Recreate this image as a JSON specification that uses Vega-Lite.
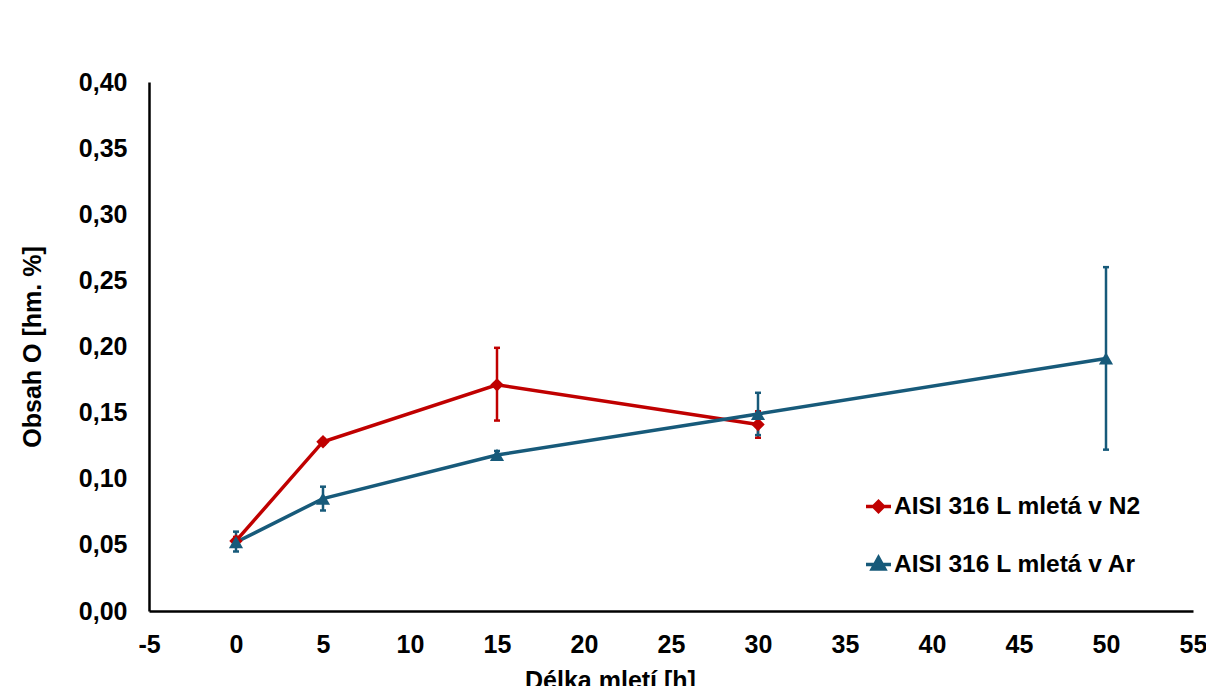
{
  "$schema": "https://vega.github.io/schema/vega-lite/v6.json",
  "width": 1044,
  "height": 529,
  "autosize": "none",
  "padding": {"left": 149, "top": 82, "right": 13, "bottom": 75},
  "background": "white",
  "config": {
    "view": {"stroke": null},
    "font": "Liberation Sans"
  },
  "data": {
    "values": [
      {"series": "AISI 316 L mletá v N2", "h": 0, "o": 0.053, "lo": 0.050, "hi": 0.056},
      {"series": "AISI 316 L mletá v N2", "h": 5, "o": 0.128, "lo": 0.126, "hi": 0.130},
      {"series": "AISI 316 L mletá v N2", "h": 15, "o": 0.171, "lo": 0.144, "hi": 0.199},
      {"series": "AISI 316 L mletá v N2", "h": 30, "o": 0.141, "lo": 0.131, "hi": 0.151},
      {"series": "AISI 316 L mletá v Ar", "h": 0, "o": 0.052, "lo": 0.045, "hi": 0.060},
      {"series": "AISI 316 L mletá v Ar", "h": 5, "o": 0.085, "lo": 0.076, "hi": 0.094},
      {"series": "AISI 316 L mletá v Ar", "h": 15, "o": 0.118, "lo": 0.115, "hi": 0.121},
      {"series": "AISI 316 L mletá v Ar", "h": 30, "o": 0.149, "lo": 0.133, "hi": 0.165},
      {"series": "AISI 316 L mletá v Ar", "h": 50, "o": 0.191, "lo": 0.122, "hi": 0.260}
    ]
  },
  "encoding": {
    "x": {
      "field": "h",
      "type": "quantitative",
      "scale": {"domain": [-5, 55], "nice": false, "zero": false},
      "axis": {
        "title": "Délka mletí [h]",
        "values": [-5, 0, 5, 10, 15, 20, 25, 30, 35, 40, 45, 50, 55],
        "labelExpr": "datum.value < 0 ? '-' + abs(datum.value) : '' + datum.value",
        "grid": false,
        "ticks": false,
        "domainColor": "#000000",
        "domainWidth": 2.5,
        "labelFont": "Liberation Sans",
        "labelFontSize": 25,
        "labelFontWeight": "bold",
        "labelColor": "#000000",
        "labelPadding": 21,
        "labelFlush": false,
        "titleFont": "Liberation Sans",
        "titleFontSize": 25,
        "titleFontWeight": "bold",
        "titleColor": "#000000",
        "titleX": 461,
        "titlePadding": 11
      }
    },
    "color": {
      "field": "series",
      "type": "nominal",
      "scale": {
        "domain": ["AISI 316 L mletá v N2", "AISI 316 L mletá v Ar"],
        "range": ["#C00000", "#175A7A"]
      },
      "legend": {
        "title": null,
        "orient": "none",
        "legendX": 715,
        "legendY": 410,
        "labelFont": "Liberation Sans",
        "labelFontSize": 24.5,
        "labelFontWeight": "bold",
        "labelColor": "#000000",
        "labelLimit": 600,
        "labelOffset": 1,
        "rowPadding": 31,
        "symbolSize": 625,
        "symbolStrokeWidth": 3.5,
        "symbolOpacity": 1,
        "encode": {
          "symbols": {
            "update": {
              "shape": {"signal": "datum.value === 'AISI 316 L mletá v N2' ? 'M-1,0H1M0,-0.4L0.4,0L0,0.4L-0.4,0Z' : 'M-1,0H1M0,-0.55L0.5,0.35L-0.5,0.35Z'"},
              "size": {"value": 625},
              "fill": {"signal": "datum.value === 'AISI 316 L mletá v N2' ? '#C00000' : '#175A7A'"},
              "stroke": {"signal": "datum.value === 'AISI 316 L mletá v N2' ? '#C00000' : '#175A7A'"},
              "strokeWidth": {"value": 3.5},
              "opacity": {"value": 1}
            }
          }
        }
      }
    }
  },
  "layer": [
    {
      "mark": {"type": "rule", "strokeWidth": 2.5},
      "encoding": {
        "y": {"field": "lo", "type": "quantitative"},
        "y2": {"field": "hi"}
      }
    },
    {
      "mark": {"type": "tick", "orient": "horizontal", "size": 6, "thickness": 2.5, "opacity": 1},
      "encoding": {
        "y": {"field": "hi", "type": "quantitative"}
      }
    },
    {
      "mark": {"type": "tick", "orient": "horizontal", "size": 6, "thickness": 2.5, "opacity": 1},
      "encoding": {
        "y": {"field": "lo", "type": "quantitative"}
      }
    },
    {
      "mark": {"type": "line", "strokeWidth": 3.5},
      "encoding": {
        "y": {
          "field": "o",
          "type": "quantitative",
          "scale": {"domain": [0, 0.4], "nice": false},
          "axis": {
            "title": "Obsah O [hm. %]",
            "values": [0, 0.05, 0.1, 0.15, 0.2, 0.25, 0.3, 0.35, 0.4],
            "labelExpr": "replace(format(datum.value, '.2f'), '.', ',')",
            "grid": false,
            "ticks": false,
            "domainColor": "#000000",
            "domainWidth": 2.5,
            "labelFont": "Liberation Sans",
            "labelFontSize": 25,
            "labelFontWeight": "bold",
            "labelColor": "#000000",
            "labelPadding": 22,
            "labelFlush": false,
            "titleFont": "Liberation Sans",
            "titleFontSize": 25,
            "titleFontWeight": "bold",
            "titleColor": "#000000",
            "titlePadding": 33
          }
        }
      }
    },
    {
      "transform": [{"filter": "datum.series === 'AISI 316 L mletá v N2'"}],
      "mark": {"type": "point", "shape": "diamond", "filled": true, "opacity": 1, "size": 180},
      "encoding": {
        "y": {"field": "o", "type": "quantitative"}
      }
    },
    {
      "transform": [{"filter": "datum.series === 'AISI 316 L mletá v Ar'"}],
      "mark": {"type": "point", "shape": "triangle-up", "filled": true, "opacity": 1, "size": 200},
      "encoding": {
        "y": {"field": "o", "type": "quantitative"}
      }
    }
  ]
}
